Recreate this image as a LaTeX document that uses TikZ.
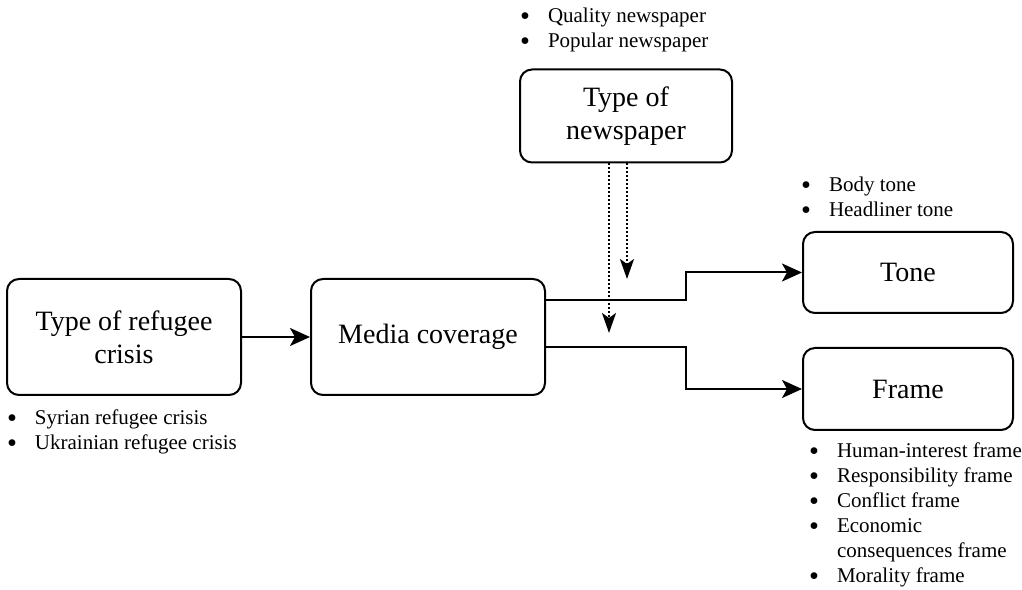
\documentclass[tikz,border=0pt]{standalone}
\usepackage{fontspec}
\setmainfont{Liberation Serif}
\usepackage{array}
\usetikzlibrary{positioning, arrows.meta}

% bullet list: #1 = text width, #2 = rows
\newcommand{\bdot}{\raisebox{-0.32ex}{\scalebox{1.35}{\textbullet}}}
\newcommand{\blist}[2]{\begin{tabular}{@{}p{28pt}@{}>{\raggedright\arraybackslash}p{#1}@{}}#2\end{tabular}}

\begin{document}
\begin{tikzpicture}[x=1pt,y=1pt,>={Stealth[length=20pt,width=18pt,inset=5pt]},line width=2pt]
        \tikzstyle{box}=[draw,rounded corners=12pt,align=center,inner sep=0pt,font=\fontsize{28}{33}\selectfont]
        \tikzstyle{conn}=[->]
        \tikzstyle{dots}=[-{Stealth[length=20pt,width=14pt,inset=5pt]},dotted]
        \tikzstyle{list}=[inner sep=0pt,anchor=north west,font=\fontsize{21}{25}\selectfont]

        \useasboundingbox (0,0) rectangle (1022,589);

        \node[box,minimum width=234pt,minimum height=116pt] (refugee) at (124,252) {Type of refugee\\crisis};
        \node[box,minimum width=234pt,minimum height=116pt] (media)   at (428,252) {Media coverage};
        \node[box,minimum width=212pt,minimum height=93pt]  (paper)   at (626,473) {Type of\\newspaper};
        \node[box,minimum width=210pt,minimum height=81pt]  (tone)    at (908,316.5) {Tone};
        \node[box,minimum width=210pt,minimum height=82pt]  (frame)   at (908,200) {Frame};

        \node[list] (paperlist)   at (519,585) {\blist{190pt}{\bdot & Quality newspaper\\ \bdot & Popular newspaper}};
        \node[list] (tonelist)    at (800,416) {\blist{190pt}{\bdot & Body tone\\ \bdot & Headliner tone}};
        \node[list] (refugeelist) at (6,183)   {\blist{230pt}{\bdot & Syrian refugee crisis\\ \bdot & Ukrainian refugee crisis}};
        \node[list] (framelist)   at (808,150) {\blist{186pt}{\bdot & Human-interest frame\\ \bdot & Responsibility frame\\ \bdot & Conflict frame\\ \bdot & Economic consequences frame\\ \bdot & Morality frame}};

        \draw[conn] (refugee.east) -- (media.west);
        \draw[conn] ([yshift=37pt]media.east) -- ++(140,0) |- (tone.west);
        \draw[conn] ([yshift=-10pt]media.east) -- ++(140,0) |- (frame.west);

        \draw[dots] ([xshift=-17pt]paper.south) -- ++(0,-169.5);
        \draw[dots] ([xshift=1pt]paper.south) -- ++(0,-115.5);
    \end{tikzpicture}
\end{document}
